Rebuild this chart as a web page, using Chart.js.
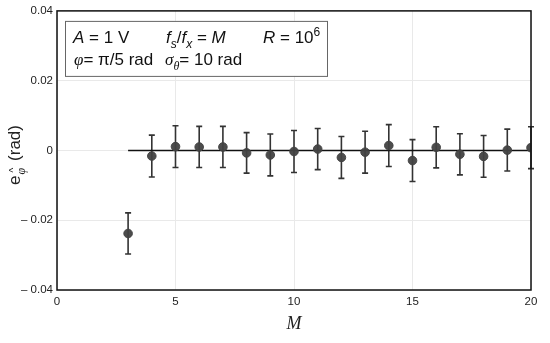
<!DOCTYPE html>
<html>
<head>
<meta charset="utf-8">
<script src="https://cdn.jsdelivr.net/npm/chart.js@4.4.1/dist/chart.umd.min.js"></script>
<style>
  html, body { margin: 0; padding: 0; background: #fff; }
  #wrap { width: 550px; height: 343px; position: relative; }
</style>
</head>
<body>
<div id="wrap"><canvas id="c" width="550" height="343"></canvas></div>
<script>
// ---- data ----
const mValues = [3, 4, 5, 6, 7, 8, 9, 10, 11, 12, 13, 14, 15, 16, 17, 18, 19, 20];
const errorMeans = [-0.0238, -0.0016, 0.0011, 0.0010, 0.0010, -0.0007, -0.0013, -0.0003, 0.0004,
                    -0.0020, -0.0005, 0.0014, -0.0029, 0.0009, -0.0011, -0.0017, 0.0001, 0.0008];
const errorSpread = [0.0059, 0.0060, 0.0060, 0.0059, 0.0059, 0.0058, 0.0060, 0.0060, 0.0059,
                     0.0060, 0.0060, 0.0060, 0.0060, 0.0059, 0.0059, 0.0060, 0.0060, 0.0060];
const zeroLineX = [3, 20];
const xTickValues = [0, 5, 10, 15, 20];
const yTickValues = [-0.04, -0.02, 0, 0.02, 0.04];
const yTickLabels = ['\u2013 0.04', '\u2013 0.02', '0', '0.02', '0.04'];

const SANS = '"Liberation Sans", Arial, sans-serif';
const SERIF = '"Liberation Serif", "Times New Roman", serif';

function drawRich(ctx, x, y, segs, size) {
  let cx = x;
  segs.forEach(s => {
    const fs = s.sub || s.sup ? Math.round(size * 0.68) : size;
    ctx.font = (s.italic ? 'italic ' : '') + fs + 'px ' + (s.serif ? SERIF : SANS);
    let dy = 0;
    if (s.sub) dy = size * 0.28;
    if (s.sup) dy = -size * 0.42;
    ctx.fillText(s.t, cx, y + dy);
    cx += ctx.measureText(s.t).width + (s.gap || 0);
  });
  return cx;
}

const errorBarPlugin = {
  id: 'errorBars',
  beforeDatasetsDraw(chart) {
    const { ctx, scales: { x, y } } = chart;
    ctx.save();
    ctx.strokeStyle = '#333';
    ctx.lineWidth = 1.6;
    mValues.forEach((m, i) => {
      const px = x.getPixelForValue(m);
      const top = y.getPixelForValue(errorMeans[i] + errorSpread[i]);
      const bot = y.getPixelForValue(errorMeans[i] - errorSpread[i]);
      ctx.beginPath();
      ctx.moveTo(px, top); ctx.lineTo(px, bot);
      ctx.moveTo(px - 3, top); ctx.lineTo(px + 3, top);
      ctx.moveTo(px - 3, bot); ctx.lineTo(px + 3, bot);
      ctx.stroke();
    });
    ctx.restore();
  }
};

const decorPlugin = {
  id: 'decor',
  afterDraw(chart) {
    const { ctx, chartArea: a } = chart;
    ctx.save();
    // frame
    ctx.strokeStyle = '#111';
    ctx.lineWidth = 1.5;
    ctx.strokeRect(a.left, a.top, a.right - a.left, a.bottom - a.top);

    // info box
    ctx.fillStyle = '#fff';
    ctx.fillRect(a.left + 8, a.top + 10, 263, 55);
    ctx.strokeStyle = '#666';
    ctx.lineWidth = 1;
    ctx.strokeRect(a.left + 8.5, a.top + 10.5, 262, 55);

    ctx.fillStyle = '#111';
    ctx.textAlign = 'left';
    ctx.textBaseline = 'alphabetic';
    const fs = 17;
    const l1 = a.top + 32, l2 = a.top + 54;
    drawRich(ctx, a.left + 16, l1, [{t: 'A', italic: true}, {t: ' = 1 V'}], fs);
    drawRich(ctx, a.left + 109, l1, [{t: 'f', italic: true}, {t: 's', italic: true, sub: true}, {t: '/'},
      {t: 'f', italic: true}, {t: 'x', italic: true, sub: true}, {t: ' = '}, {t: 'M', italic: true}], fs);
    drawRich(ctx, a.left + 206, l1, [{t: 'R', italic: true}, {t: ' = 10'}, {t: '6', sup: true}], fs);
    drawRich(ctx, a.left + 17, l2, [{t: '\u03C6', italic: true, serif: true}, {t: '= \u03C0/5 rad'}], fs);
    drawRich(ctx, a.left + 108, l2, [{t: '\u03C3', italic: true, serif: true}, {t: '\u03B8', italic: true, serif: true, sub: true}, {t: '= 10 rad'}], fs);

    // x title
    ctx.font = 'italic 18px ' + SERIF;
    ctx.textAlign = 'center';
    ctx.fillStyle = '#222';
    ctx.fillText('M', (a.left + a.right) / 2, 329);

    // y title (rotated)
    ctx.translate(20, 153);
    ctx.rotate(-Math.PI / 2);
    ctx.textAlign = 'left';
    ctx.fillStyle = '#222';
    let cx = -32;
    ctx.font = '17px ' + SANS;
    ctx.fillText('e', cx, 0);
    cx += ctx.measureText('e').width + 1;
    ctx.font = 'italic 12px ' + SERIF;
    ctx.fillText('\u03C6', cx, 5);
    const pw = ctx.measureText('\u03C6').width;
    ctx.font = '10px ' + SANS;
    ctx.textAlign = 'center';
    ctx.fillText('^', cx + pw / 2 + 1, -3);
    ctx.textAlign = 'left';
    cx += pw + 7;
    ctx.font = '17px ' + SANS;
    ctx.fillText('(rad)', cx, 0);
    ctx.restore();
  }
};

new Chart(document.getElementById('c'), {
  type: 'scatter',
  data: {
    datasets: [
      {
        label: 'error',
        data: mValues.map((m, i) => ({ x: m, y: errorMeans[i] })),
        backgroundColor: 'rgba(66,66,66,0.95)',
        borderColor: 'rgba(66,66,66,0.95)',
        pointRadius: 4.3,
        pointHoverRadius: 4.3,
        order: 0
      },
      {
        label: 'zero',
        data: zeroLineX.map(m => ({ x: m, y: 0 })),
        showLine: true,
        borderColor: '#111',
        borderWidth: 1.5,
        pointRadius: 0,
        order: 1
      }
    ]
  },
  options: {
    responsive: false,
    animation: false,
    devicePixelRatio: 1,
    layout: { padding: { top: 10, right: 19, left: 0, bottom: 0 } },
    plugins: { legend: { display: false }, tooltip: { enabled: false } },
    scales: {
      x: {
        type: 'linear', min: 0, max: 20,
        afterBuildTicks: s => { s.ticks = xTickValues.map(v => ({ value: v })); },
        afterFit: s => { s.height = 53; },
        grid: { color: '#e9e9e9', lineWidth: 1, drawTicks: false },
        border: { display: false },
        ticks: { color: '#222', padding: 5, font: { family: SANS, size: 11.5 }, maxRotation: 0,
                 callback: v => String(v) }
      },
      y: {
        type: 'linear', min: -0.04, max: 0.04,
        afterBuildTicks: s => { s.ticks = yTickValues.map(v => ({ value: v })); },
        afterFit: s => { s.width = 57; },
        grid: { color: '#e9e9e9', lineWidth: 1, drawTicks: false },
        border: { display: false },
        ticks: { color: '#222', padding: 4, font: { family: SANS, size: 11.5 },
                 callback: v => {
                   const i = yTickValues.findIndex(t => Math.abs(t - v) < 1e-9);
                   return i >= 0 ? yTickLabels[i] : '';
                 } }
      }
    }
  },
  plugins: [errorBarPlugin, decorPlugin]
});
</script>
</body>
</html>
